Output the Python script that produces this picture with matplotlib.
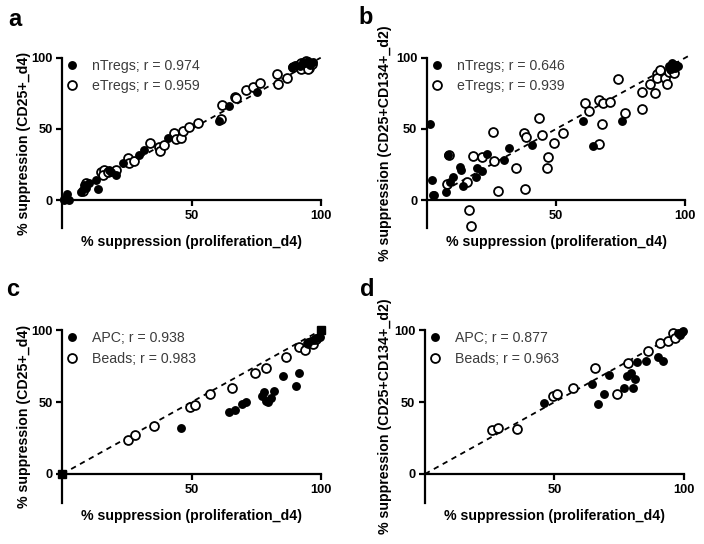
import matplotlib
matplotlib.use("Agg")
import matplotlib.pyplot as plt

plt.rcParams['font.family'] = ['Liberation Sans', 'DejaVu Sans']

# ---------------- data ----------------
# panel a
a_n_x = [0.5, 1.9, 0.7, 2.6, 7.1, 8.4, 9.1, 10.4, 13, 14, 18.1, 18.8, 20.7, 23.3, 29.8, 31.7, 40.8,
         60.6, 64.5, 75.5, 88.7, 90, 92, 93, 94, 95, 96, 97]
a_n_y = [0.5, 4.2, 0, 0, 5.8, 10.5, 8.2, 11.7, 14.1, 7.7, 21.1, 19.9, 17.6, 25.8, 31.6, 35.1, 43.3,
         55.5, 66.3, 76.1, 93.7, 95, 94, 97, 96, 98, 95, 97]
a_e_x = [7.9, 9, 14.9, 16.2, 15.9, 17.5, 20.7, 25.3, 25.9, 27.6, 34.1, 37.6, 38, 39.5, 43.4, 44, 46,
         46.6, 49.2, 52.4, 61.5, 61.9, 66.7, 67.4, 70.9, 73.8, 76.4, 82.9, 83.3, 86.8, 89.4, 91.5,
         92.5, 93.5, 94.5, 95.5, 96.5, 92.5, 95]
a_e_y = [6, 12, 19.9, 21.1, 17.6, 19.9, 21.1, 29.3, 25.8, 27.6, 40.3, 37.5, 34.7, 38.7, 46.9, 42.6, 43.3,
         48.7, 51.5, 53.9, 56.9, 66.8, 72.6, 71.5, 77.5, 79.6, 82, 88.5, 81.5, 86, 93.7, 95,
         96.5, 92.5, 97.5, 93, 95.5, 92, 92]
# panel b
b_n_x = [1.2, 1.8, 2.2, 2.8, 7.2, 8.2, 9, 10.2, 12.9, 13.1, 14.1, 19, 19.5, 21.4, 23.1, 29.9, 31.9,
         40.5, 60.2, 64.2, 75.4, 93.5, 94.5, 95, 96, 96.5, 97.3]
b_n_y = [53.3, 14.2, 3.2, 3.5, 5.6, 31.3, 13, 16.1, 22.9, 20.8, 10.2, 16.5, 22.4, 20.5, 32.5, 27.8, 36.5,
         38.8, 55.6, 38.1, 55.6, 94, 92, 96, 93, 95, 94]
b_e_x = [7.6, 8.6, 15.4, 16.3, 17.1, 17.7, 21.2, 25.5, 26, 27.6, 34.3, 37.6, 38.3, 37.9, 43.5, 44.4,
         46.3, 46.9, 49.1, 52.6, 61.2, 62.5, 66.7, 66.7, 67.9, 68.3, 70.9, 74.1, 76.7, 83.1, 83.1,
         86.3, 88.3, 88.9, 88.9, 90.2, 92.1, 92.8, 93.5, 94.5, 95.5, 96]
b_e_y = [11, 31.8, 13, -7.3, -18, 31, 30.1, 47.7, 27.5, 6, 22.4, 47, 44.6, 7.7, 57.9, 45.8,
         22.4, 30.1, 40, 47, 68.4, 62.6, 70.3, 39.3, 53.5, 68, 69.1, 84.8, 61, 76.2, 63.8,
         81.3, 75, 88.4, 85.5, 91.4, 85.5, 81.3, 90, 92, 89, 94]
# panel c
c_a_x = [45.9, 64.6, 66.8, 69.4, 71.1, 77.2, 78.1, 79, 79.7, 80.6, 82.1, 85.5, 90.4, 91.6, 95.2, 97.1, 98.4, 99.7]
c_a_y = [32.3, 43.4, 44.5, 48.7, 50.3, 54.3, 57.3, 51, 50.3, 52.7, 57.8, 68.2, 61.5, 70.5, 91, 93.2, 94.4, 95.5]
c_b_x = [25.3, 28.1, 35.4, 49.4, 51.4, 57.2, 65.8, 74.6, 78.8, 86.6, 91.6, 93.9, 95, 96.3, 97.1, 98]
c_b_y = [23.4, 27.4, 33.2, 46.4, 48, 55.7, 60.1, 70.1, 73.5, 81.2, 88.2, 86.3, 91.4, 92, 90.5, 94.2]
c_sq_x = [0, 100]
c_sq_y = [0, 100]
# panel d
d_a_x = [46, 64.4, 67, 69.2, 71.1, 76.9, 78.2, 79.6, 80.3, 81.3, 82.1, 85.4, 90.2, 91.9, 97.9, 99.2, 99.8, 98.5]
d_a_y = [49.4, 62.3, 48.4, 56, 68.8, 60, 68.1, 70, 59.5, 65.8, 77.7, 78.8, 81.6, 78.8, 97.9, 99, 99.7, 97]
d_b_x = [25.8, 28.3, 35.4, 49.4, 50.9, 57.3, 65.7, 74.1, 78.6, 86.3, 90.8, 94, 95.7, 96.6]
d_b_y = [30.5, 31.7, 31, 54, 55.6, 59.5, 73.5, 55.6, 77.4, 85.6, 90.9, 92.7, 97.9, 94.4]

# identity-line extents per panel
line_a = [6, 100]
line_b = [10, 101]
line_c = [0, 100]
line_d = [0, 100]

panel_letters = ['a', 'b', 'c', 'd']
ylabels = ['% suppression (CD25+_d4)', '% suppression (CD25+CD134+_d2)',
           '% suppression (CD25+_d4)', '% suppression (CD25+CD134+_d2)']
xlabel = '% suppression (proliferation_d4)'
leg_a = ['nTregs; r = 0.974', 'eTregs; r = 0.959']
leg_b = ['nTregs; r = 0.646', 'eTregs; r = 0.939']
leg_c = ['APC; r = 0.938', 'Beads; r = 0.983']
leg_d = ['APC; r = 0.877', 'Beads; r = 0.963']
yticks = [0, 50, 100]
xticks = [50, 100]

# ---------------- figure ----------------
W, H = 704, 544
fig = plt.figure(figsize=(W / 100, H / 100), dpi=100)

rects = [
    [62.3 / W, (H - 228.5) / H, 258.4 / W, 170.8 / H],
    [427.0 / W, (H - 228.5) / H, 258.4 / W, 170.8 / H],
    [62.3 / W, (H - 502.7) / H, 258.4 / W, 172.4 / H],
    [425.0 / W, (H - 502.7) / H, 258.7 / W, 172.4 / H],
]
ylab_x = [-0.150, -0.162, -0.150, -0.155]
letter_pos = [(8, 20), (358, 18), (6, 290), (360, 290)]

data = [
    (a_n_x, a_n_y, a_e_x, a_e_y, line_a, leg_a),
    (b_n_x, b_n_y, b_e_x, b_e_y, line_b, leg_b),
    (c_a_x, c_a_y, c_b_x, c_b_y, line_c, leg_c),
    (d_a_x, d_a_y, d_b_x, d_b_y, line_d, leg_d),
]

ms = 6.4
for i, (fx, fy, ox, oy, ln, leg) in enumerate(data):
    ax = fig.add_axes(rects[i])
    ax.set_xlim(0, 100)
    ax.set_ylim(-20, 100)
    ax.plot(ln, ln, color='black', lw=1.3, ls=(0, (3, 2.6)), zorder=1, clip_on=False)
    h1, = ax.plot(fx, fy, 'o', color='black', ms=ms, mew=0, ls='none', zorder=3,
                  clip_on=False, label=leg[0])
    h2, = ax.plot(ox, oy, 'o', mfc='white', mec='black', ms=ms, mew=1.3, ls='none',
                  zorder=2, clip_on=False, label=leg[1])
    if i == 2:
        ax.plot(c_sq_x, c_sq_y, 's', color='black', ms=6, ls='none', zorder=4, clip_on=False)
    for s in ['top', 'right']:
        ax.spines[s].set_visible(False)
    ax.spines['bottom'].set_position(('data', 0))
    ax.spines['bottom'].set_bounds(0, 100)
    ax.spines['left'].set_bounds(-20, 100)
    for s in ['left', 'bottom']:
        ax.spines[s].set_linewidth(1.6)
    ax.set_yticks(yticks)
    ax.set_xticks(xticks)
    ax.tick_params(axis='both', direction='out', length=4, width=1.6, labelsize=9.3, pad=3)
    for lab in ax.get_xticklabels() + ax.get_yticklabels():
        lab.set_fontweight('bold')
    ax.set_xlabel(xlabel, fontsize=10.2, fontweight='bold', va='center')
    ax.xaxis.set_label_coords(0.5, -0.080)
    ax.set_ylabel(ylabels[i], fontsize=10.2, fontweight='bold', va='center')
    ax.yaxis.set_label_coords(ylab_x[i], 0.5)
    lg = ax.legend(handles=[h1, h2], loc='upper left', bbox_to_anchor=(0.01, 0.995),
                   frameon=False, fontsize=10.2, handlelength=1.0, handletextpad=0.9,
                   borderpad=0, borderaxespad=0, labelspacing=0.45, labelcolor='#3c3c3c')
    fig.text(letter_pos[i][0] / W, 1 - letter_pos[i][1] / H, panel_letters[i],
             fontsize=17, fontweight='bold', va='center', ha='left')

fig.savefig('out.png', dpi=100)
